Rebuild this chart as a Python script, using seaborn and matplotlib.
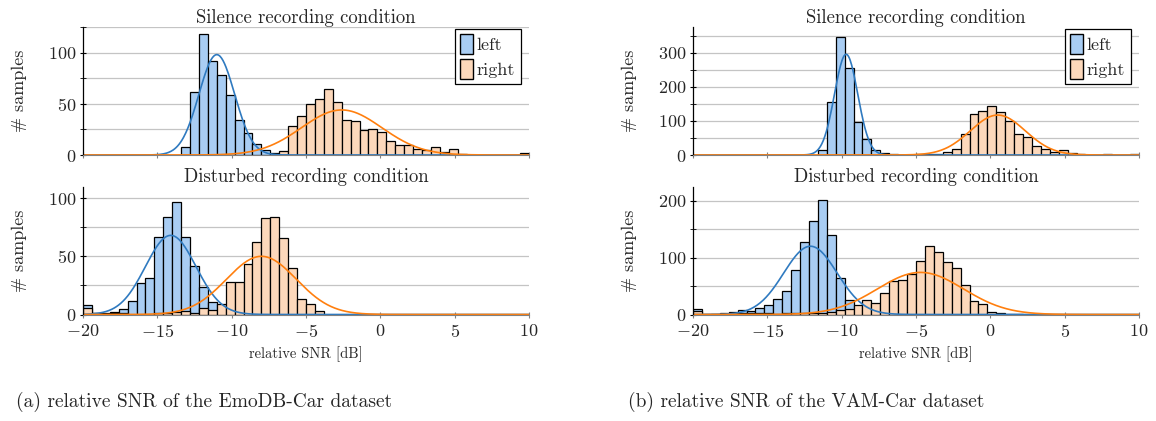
import numpy as np
import pandas as pd
import matplotlib.pyplot as plt
import seaborn as sns
from matplotlib.ticker import MultipleLocator
from matplotlib.patches import Patch

sns.set_style("white")
plt.rcParams["font.family"] = "serif"
plt.rcParams["font.serif"] = ["cmr10"]
plt.rcParams["mathtext.fontset"] = "cm"
plt.rcParams["axes.formatter.use_mathtext"] = True

# 50 histogram bins of 0.6 dB between -20 and 10 dB
n_bins = 50
snr_range = (-20, 10)
bin_edges = np.linspace(snr_range[0], snr_range[1], n_bins + 1)
bin_centers = (bin_edges[:-1] + bin_edges[1:]) / 2

# counts per bin
emodb_silence_left = [0, 0, 0, 0, 0, 0, 0, 0, 0, 0,
                      0, 8, 62, 118, 92, 78, 59, 34, 21, 11,
                      5, 2, 0, 0, 0, 0, 0, 0, 0, 0,
                      0, 0, 0, 0, 0, 0, 0, 0, 0, 0,
                      0, 0, 0, 0, 0, 0, 0, 0, 0, 0]
emodb_silence_right = [0, 0, 0, 0, 0, 0, 0, 0, 0, 0,
                       0, 0, 0, 0, 0, 0, 0, 0, 0, 0,
                       0, 0, 4, 28, 38, 50, 55, 64, 52, 34,
                       33, 24, 25, 22, 14, 10, 10, 6, 5, 8,
                       3, 6, 1, 0, 0, 0, 0, 0, 0, 2]
emodb_disturbed_left = [8, 1, 1, 2, 5, 12, 27, 31, 67, 84,
                        97, 67, 42, 24, 11, 3, 0, 0, 0, 0,
                        0, 0, 0, 0, 0, 0, 0, 0, 0, 0,
                        0, 0, 0, 0, 0, 0, 0, 0, 0, 0,
                        0, 0, 0, 0, 0, 0, 0, 0, 0, 0]
emodb_disturbed_right = [6, 1, 0, 1, 1, 0, 0, 0, 1, 1,
                         2, 3, 1, 6, 4, 9, 28, 28, 43, 62,
                         83, 84, 66, 40, 13, 9, 3, 0, 0, 0,
                         0, 0, 0, 0, 0, 0, 0, 0, 0, 0,
                         0, 0, 0, 0, 0, 0, 0, 0, 0, 0]
vam_silence_left = [0, 0, 0, 0, 0, 0, 0, 0, 0, 0,
                    0, 0, 0, 0, 14, 155, 345, 254, 97, 47,
                    16, 7, 2, 0, 0, 0, 0, 0, 0, 0,
                    0, 0, 0, 0, 0, 0, 0, 0, 0, 0,
                    0, 0, 0, 0, 0, 0, 0, 0, 0, 0]
vam_silence_right = [0, 0, 0, 0, 0, 0, 0, 0, 0, 0,
                     0, 0, 0, 0, 0, 0, 0, 0, 0, 0,
                     0, 0, 0, 0, 0, 2, 3, 4, 8, 17,
                     61, 120, 130, 144, 127, 101, 62, 54, 25, 18,
                     10, 15, 5, 2, 0, 0, 3, 0, 1, 2]
vam_disturbed_left = [10, 1, 1, 3, 4, 8, 6, 11, 16, 27,
                      41, 78, 128, 164, 201, 139, 65, 26, 6, 2,
                      0, 0, 0, 0, 0, 0, 0, 0, 0, 0,
                      0, 0, 0, 0, 0, 0, 0, 0, 0, 0,
                      0, 0, 0, 0, 0, 0, 0, 0, 0, 0]
vam_disturbed_right = [6, 0, 1, 1, 2, 2, 3, 2, 2, 1,
                       2, 2, 3, 3, 3, 4, 8, 10, 16, 26,
                       21, 37, 59, 60, 71, 94, 120, 109, 93, 81,
                       52, 23, 18, 5, 2, 1, 1, 0, 0, 0,
                       0, 0, 0, 0, 0, 0, 0, 0, 0, 0]

# gaussian fits: (mean, std, peak height)
emodb_silence_fits = [(-11.0, 1.2, 98), (-2.6, 2.7, 44)]
emodb_disturbed_fits = [(-14.1, 1.7, 68), (-8.0, 2.35, 50)]
vam_silence_fits = [(-9.7, 0.78, 295), (0.5, 1.85, 117)]
vam_disturbed_fits = [(-12.1, 1.8, 120), (-4.7, 2.9, 74)]

fill_colors = ["#a9cdf3", "#fcd8bb"]
line_colors = ["#2f7ac0", "#ff7f0e"]
labels = ["left", "right"]

fig = plt.figure(figsize=(11.56, 4.21), dpi=100)

ax_w = 446 / 1156
ax_h = 128 / 421
positions = {
    "tl": [83 / 1156, 1 - 155 / 421, ax_w, ax_h],
    "bl": [83 / 1156, 1 - 314.5 / 421, ax_w, ax_h],
    "tr": [693 / 1156, 1 - 155 / 421, ax_w, ax_h],
    "br": [693 / 1156, 1 - 314.5 / 421, ax_w, ax_h],
}

x_curve = np.linspace(-20, 10, 600)


def draw_panel(ax, counts, fits, title, ymax, major, minor, bottom, legend):
    for cnt, fc in zip(counts, fill_colors):
        df = pd.DataFrame({"snr": bin_centers, "n": cnt})
        sns.histplot(data=df, x="snr", weights="n", bins=n_bins,
                     binrange=snr_range, ax=ax, color=fc, alpha=1,
                     edgecolor="black", linewidth=0.9)
    for p in ax.patches:
        if p.get_height() == 0:
            p.set_visible(False)
    for (mu, sd, peak), lc in zip(fits, line_colors):
        y_curve = peak * np.exp(-0.5 * ((x_curve - mu) / sd) ** 2)
        sns.lineplot(x=x_curve, y=y_curve, ax=ax, color=lc, linewidth=1.2)

    ax.set_xlim(-20, 10)
    ax.set_ylim(0, ymax)
    ax.yaxis.set_major_locator(MultipleLocator(major))
    ax.yaxis.set_minor_locator(MultipleLocator(minor))
    ax.xaxis.set_major_locator(MultipleLocator(5))
    ax.grid(True, axis="y", which="both", color="#c4c4c4", linewidth=0.9)
    ax.set_axisbelow(True)
    for s in ["top", "right"]:
        ax.spines[s].set_visible(False)
    ax.spines["left"].set_color("black")
    ax.spines["left"].set_linewidth(0.9)
    ax.spines["bottom"].set_color("#808080")
    ax.tick_params(axis="y", which="both", direction="inout", length=4,
                   color="black", labelsize=13, left=True, pad=3)
    ax.tick_params(axis="x", direction="inout", length=5, color="#808080",
                   labelsize=13, bottom=True)
    ax.set_title(title, fontsize=13.5, pad=3)
    ax.set_ylabel("# samples", fontsize=13, labelpad=15)
    if bottom:
        ax.set_xlabel("relative SNR [dB]", fontsize=10.5, labelpad=5)
    else:
        ax.set_xlabel("")
        ax.tick_params(axis="x", labelbottom=False)
    if legend:
        handles = [Patch(facecolor=fc, edgecolor="black", label=lb)
                   for fc, lb in zip(fill_colors, labels)]
        leg = ax.legend(handles=handles, loc="upper right", fontsize=13,
                        frameon=True, fancybox=False, framealpha=1,
                        edgecolor="black", handlelength=0.7, handleheight=1.3,
                        handletextpad=0.2, labelspacing=0.3, borderpad=0.3,
                        borderaxespad=0.1, bbox_to_anchor=(0.985, 1.0))
        leg.get_frame().set_linewidth(0.9)


ax = fig.add_axes(positions["tl"])
draw_panel(ax, [emodb_silence_left, emodb_silence_right], emodb_silence_fits,
           "Silence recording condition", 125, 50, 25, False, True)
ax = fig.add_axes(positions["bl"])
draw_panel(ax, [emodb_disturbed_left, emodb_disturbed_right], emodb_disturbed_fits,
           "Disturbed recording condition", 110, 50, 25, True, False)
ax = fig.add_axes(positions["tr"])
draw_panel(ax, [vam_silence_left, vam_silence_right], vam_silence_fits,
           "Silence recording condition", 375, 100, 50, False, True)
ax = fig.add_axes(positions["br"])
draw_panel(ax, [vam_disturbed_left, vam_disturbed_right], vam_disturbed_fits,
           "Disturbed recording condition", 225, 100, 50, True, False)

fig.text(204 / 1156, 1 - 402 / 421, "(a) relative SNR of the EmoDB-Car dataset",
         ha="center", va="center", fontsize=14)
fig.text(806 / 1156, 1 - 402 / 421, "(b) relative SNR of the VAM-Car dataset",
         ha="center", va="center", fontsize=14)

plt.savefig("out.png", dpi=100)
